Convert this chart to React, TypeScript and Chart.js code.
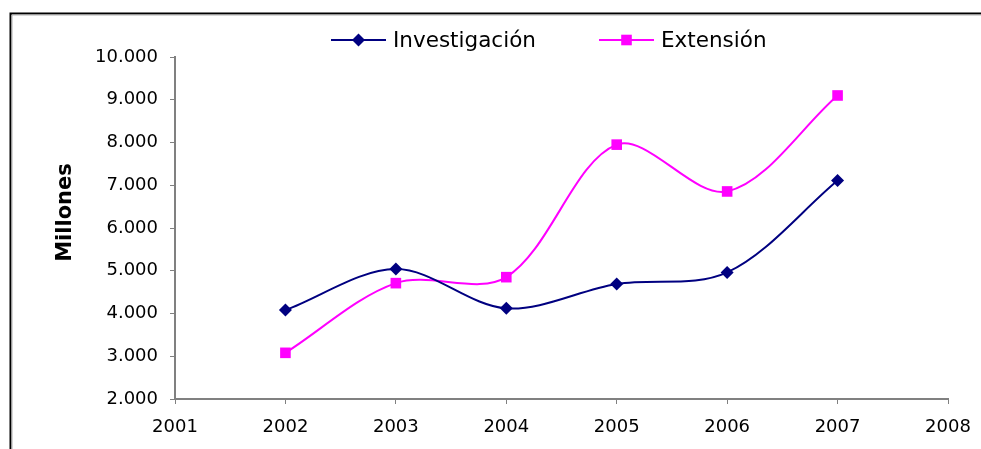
import React, { useEffect, useRef } from "react";
import { Chart, registerables } from "chart.js";

Chart.register(...registerables);

const years = [2002, 2003, 2004, 2005, 2006, 2007];
const investigacion = [4080, 5040, 4120, 4690, 4960, 7110];
const extension = [3080, 4710, 4850, 7950, 6855, 9100];
const seriesNames = ["Investigación", "Extensión"];
const seriesColors = ["#000080", "#FF00FF"];
const yAxisTitle = "Millones";
const xMin = 2001;
const xMax = 2008;
const yMin = 2000;
const yMax = 10000;
const yStep = 1000;

const FONT = "'DejaVu Sans', sans-serif";

function fmt(v: number): string {
  return String(v).replace(/\B(?=(\d{3})+(?!\d))/g, ".");
}

function drawMarker(ctx: CanvasRenderingContext2D, style: string, x: number, y: number, color: string) {
  ctx.save();
  ctx.fillStyle = color;
  ctx.beginPath();
  if (style === "rectRot") {
    const r = 6.5;
    ctx.moveTo(x - r, y);
    ctx.lineTo(x, y - r);
    ctx.lineTo(x + r, y);
    ctx.lineTo(x, y + r);
    ctx.closePath();
  } else {
    const s = 5.3;
    ctx.rect(x - s, y - s, 2 * s, 2 * s);
  }
  ctx.fill();
  ctx.restore();
}

const decorPlugin = {
  id: "decor",
  afterDraw(chart: any) {
    const ctx: CanvasRenderingContext2D = chart.ctx;
    const W = chart.width;
    const H = chart.height;
    ctx.save();
    // outer frame (left + top)
    ctx.strokeStyle = "#000";
    ctx.lineWidth = 2;
    ctx.beginPath();
    ctx.moveTo(10.5, H + 2);
    ctx.lineTo(10.5, 13.5);
    ctx.lineTo(W + 2, 13.5);
    ctx.stroke();
    ctx.strokeStyle = "#b0b0b0";
    ctx.lineWidth = 1;
    ctx.beginPath();
    ctx.moveTo(12, H + 2);
    ctx.lineTo(12, 15);
    ctx.lineTo(W + 2, 15);
    ctx.stroke();

    // y axis title
    ctx.save();
    ctx.translate(66, 212.5);
    ctx.rotate(-Math.PI / 2);
    ctx.font = "bold 21px " + FONT;
    ctx.fillStyle = "#000";
    ctx.textAlign = "center";
    ctx.textBaseline = "middle";
    ctx.fillText(yAxisTitle, 0, 0);
    ctx.restore();

    // legend
    const ly = 40;
    const starts = [331, 599];
    chart.data.datasets.forEach((ds: any, i: number) => {
      const x0 = starts[i];
      ctx.strokeStyle = ds.borderColor;
      ctx.lineWidth = 2;
      ctx.beginPath();
      ctx.moveTo(x0, ly);
      ctx.lineTo(x0 + 55, ly);
      ctx.stroke();
      drawMarker(ctx, ds.pointStyle, x0 + 27.5, ly, ds.borderColor);
      ctx.font = "21.5px " + FONT;
      ctx.fillStyle = "#000";
      ctx.textAlign = "left";
      ctx.textBaseline = "middle";
      ctx.fillText(ds.label, x0 + 62, ly + 1);
    });
    ctx.restore();
  },
};

export default function App() {
  const ref = useRef<HTMLCanvasElement>(null);
  useEffect(() => {
    if (!ref.current) return;
    const chart = new Chart(ref.current, {
      type: "line",
      data: {
        datasets: [
          {
            label: seriesNames[0],
            data: years.map((y, i) => ({ x: y, y: investigacion[i] })),
            borderColor: seriesColors[0],
            backgroundColor: seriesColors[0],
            borderWidth: 2,
            pointStyle: "rectRot",
            pointRadius: 6.5,
            pointBorderWidth: 0,
            tension: 0.33,
          },
          {
            label: seriesNames[1],
            data: years.map((y, i) => ({ x: y, y: extension[i] })),
            borderColor: seriesColors[1],
            backgroundColor: seriesColors[1],
            borderWidth: 2,
            pointStyle: "rect",
            pointRadius: 7.5,
            pointBorderWidth: 0,
            tension: 0.33,
          },
        ],
      },
      options: {
        responsive: false,
        animation: false,
        devicePixelRatio: 1,
        layout: { padding: { top: 57, right: 33, bottom: 0, left: 0 } },
        plugins: { legend: { display: false }, tooltip: { enabled: false } },
        scales: {
          x: {
            type: "linear",
            min: xMin,
            max: xMax,
            afterFit: (s: any) => {
              s.height = 50;
              s.paddingLeft = 0;
              s.paddingRight = 0;
            },
            ticks: {
              stepSize: 1,
              padding: 13,
              color: "#000",
              font: { family: FONT, size: 18 },
              callback: (v: any) => String(v),
            },
            grid: { drawOnChartArea: false, drawTicks: true, tickLength: 5, color: "#808080", lineWidth: 1 },
            border: { color: "#808080", width: 2 },
          },
          y: {
            min: yMin,
            max: yMax,
            afterFit: (s: any) => {
              s.width = 175;
            },
            ticks: {
              stepSize: yStep,
              padding: 12,
              color: "#000",
              font: { family: FONT, size: 18 },
              callback: (v: any) => fmt(Number(v)),
            },
            grid: { drawOnChartArea: false, drawTicks: true, tickLength: 5, color: "#808080", lineWidth: 1 },
            border: { color: "#808080", width: 2 },
          },
        },
      },
      plugins: [decorPlugin],
    });
    return () => chart.destroy();
  }, []);
  return (
    <div style={{ position: "fixed", left: 0, top: 0, width: 981, height: 449, background: "#fff" }}>
      <canvas ref={ref} width={981} height={449} style={{ width: 981, height: 449 }} />
    </div>
  );
}
